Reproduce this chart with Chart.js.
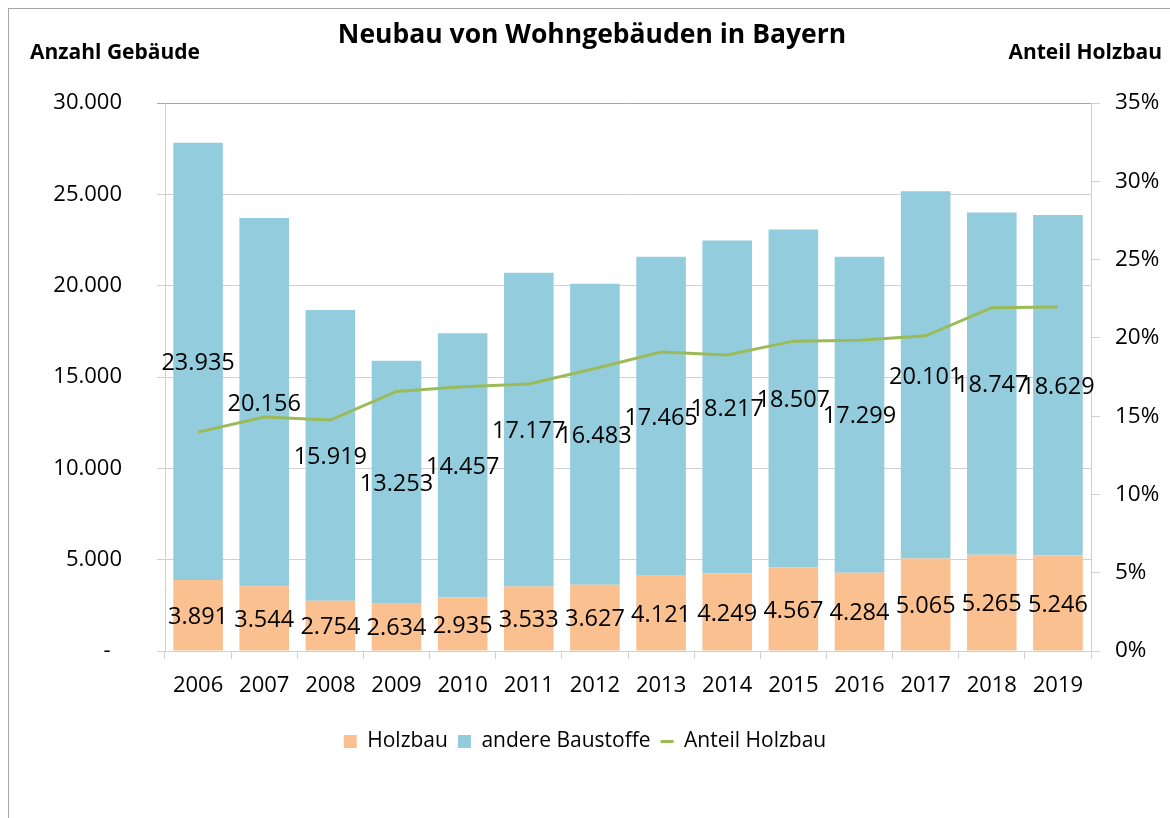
<!DOCTYPE html>
<html>
<head>
<meta charset="utf-8">
<script src="https://cdn.jsdelivr.net/npm/chart.js@4"></script>
<style>
  body { margin: 0; background: #fff; }
  #wrap { position: relative; width: 1170px; height: 818px; overflow: hidden; }
  #frame { position: absolute; left: 8px; top: 8px; width: 1200px; height: 900px;
           border-left: 1px solid #a6a6a6; border-top: 1px solid #a6a6a6; }
  #chart { position: absolute; left: 0; top: 0; }
</style>
</head>
<body>
<div id="wrap">
  <div id="frame"></div>
  <canvas id="chart" width="1170" height="818"></canvas>
</div>
<script>
const years = ['2006', '2007', '2008', '2009', '2010', '2011', '2012',
               '2013', '2014', '2015', '2016', '2017', '2018', '2019'];
const holzbau = [3891, 3544, 2754, 2634, 2935, 3533, 3627,
                 4121, 4249, 4567, 4284, 5065, 5265, 5246];
const andere = [23935, 20156, 15919, 13253, 14457, 17177, 16483,
                17465, 18217, 18507, 17299, 20101, 18747, 18629];
// Anteil Holzbau in %
const anteil = [13.98, 14.95, 14.75, 16.58, 16.88, 17.06, 18.04,
                19.09, 18.91, 19.79, 19.85, 20.13, 21.93, 21.97];

const FONT = 'Open Sans';

function fmt(n) {
    return String(n).replace(/\B(?=(\d{3})+(?!\d))/g, '.');
}

// Values inside the bar segments plus the titles at the top
const labelPlugin = {
    id: 'labels',
    afterDatasetsDraw(chart) {
        const ctx = chart.ctx;
        ctx.save();
        ctx.fillStyle = '#000';
        ctx.textAlign = 'center';
        ctx.textBaseline = 'middle';
        ctx.font = `23.5px "${FONT}"`;
        [0, 1].forEach(di => {
            const meta = chart.getDatasetMeta(di);
            meta.data.forEach((bar, i) => {
                const p = bar.getCenterPoint();
                ctx.fillText(fmt(chart.data.datasets[di].data[i]), p.x, p.y + 2);
            });
        });
        ctx.restore();
    },
    afterDraw(chart) {
        const ctx = chart.ctx;
        ctx.save();
        ctx.fillStyle = '#000';
        ctx.textBaseline = 'middle';
        ctx.font = `bold 26.5px "${FONT}"`;
        ctx.textAlign = 'center';
        ctx.fillText('Neubau von Wohngebäuden in Bayern', 592, 35);
        ctx.font = `bold 21px "${FONT}"`;
        ctx.textAlign = 'left';
        ctx.fillText('Anzahl Gebäude', 30, 53);
        ctx.textAlign = 'right';
        ctx.fillText('Anteil Holzbau', 1162, 53);
        ctx.restore();
    }
};

new Chart(document.getElementById('chart'), {
    type: 'bar',
    data: {
        labels: years,
        datasets: [
            {
                label: 'Holzbau',
                data: holzbau,
                backgroundColor: '#FAC090',
                pointStyle: 'rect',
                yAxisID: 'y',
                order: 2,
            },
            {
                label: 'andere Baustoffe',
                data: andere,
                backgroundColor: '#93CDDD',
                pointStyle: 'rect',
                yAxisID: 'y',
                order: 2,
            },
            {
                type: 'line',
                label: 'Anteil Holzbau',
                data: anteil,
                borderColor: '#9BBB59',
                backgroundColor: '#9BBB59',
                borderWidth: 3,
                pointRadius: 0,
                pointStyle: 'line',
                tension: 0,
                yAxisID: 'y1',
                order: 1,
            },
        ],
    },
    options: {
        responsive: false,
        animation: false,
        datasets: {
            bar: { categoryPercentage: 1, barPercentage: 0.75 },
        },
        layout: { padding: { top: 103, left: 0, right: 0, bottom: 56 } },
        plugins: {
            title: { display: false },
            tooltip: { enabled: false },
            legend: {
                position: 'bottom',
                labels: {
                    usePointStyle: true,
                    boxHeight: 13,
                    pointStyleWidth: 13,
                    padding: 10,
                    color: '#000',
                    font: { family: FONT, size: 21 },
                    sort: (a, b) => a.datasetIndex - b.datasetIndex,
                },
            },
        },
        scales: {
            x: {
                stacked: true,
                afterFit: s => { s.height = 70; },
                border: { color: '#d0d0d0' },
                grid: {
                    offset: true,
                    drawOnChartArea: false,
                    drawTicks: true,
                    tickLength: 8,
                    color: '#d0d0d0',
                },
                ticks: {
                    color: '#000',
                    padding: 14,
                    font: { family: FONT, size: 22 },
                },
            },
            y: {
                stacked: true,
                min: 0,
                max: 30000,
                afterFit: s => { s.width = 165; },
                border: { color: '#d0d0d0' },
                grid: {
                    color: ctx => ctx.tick.value === 30000 ? '#a6a6a6' : '#d0d0d0',
                    tickLength: 8,
                },
                ticks: {
                    stepSize: 5000,
                    color: '#000',
                    padding: 35,
                    font: { family: FONT, size: 22 },
                    callback: v => v === 0 ? '-  ' : fmt(v),
                },
            },
            y1: {
                position: 'right',
                min: 0,
                max: 35,
                afterFit: s => { s.width = 79; },
                border: { color: '#d0d0d0' },
                grid: {
                    drawOnChartArea: false,
                    color: '#d0d0d0',
                    tickLength: 9,
                },
                ticks: {
                    stepSize: 5,
                    color: '#000',
                    padding: 15,
                    font: { family: FONT, size: 22.5 },
                    callback: v => v + '%',
                },
            },
        },
    },
    plugins: [labelPlugin],
});
</script>
</body>
</html>
